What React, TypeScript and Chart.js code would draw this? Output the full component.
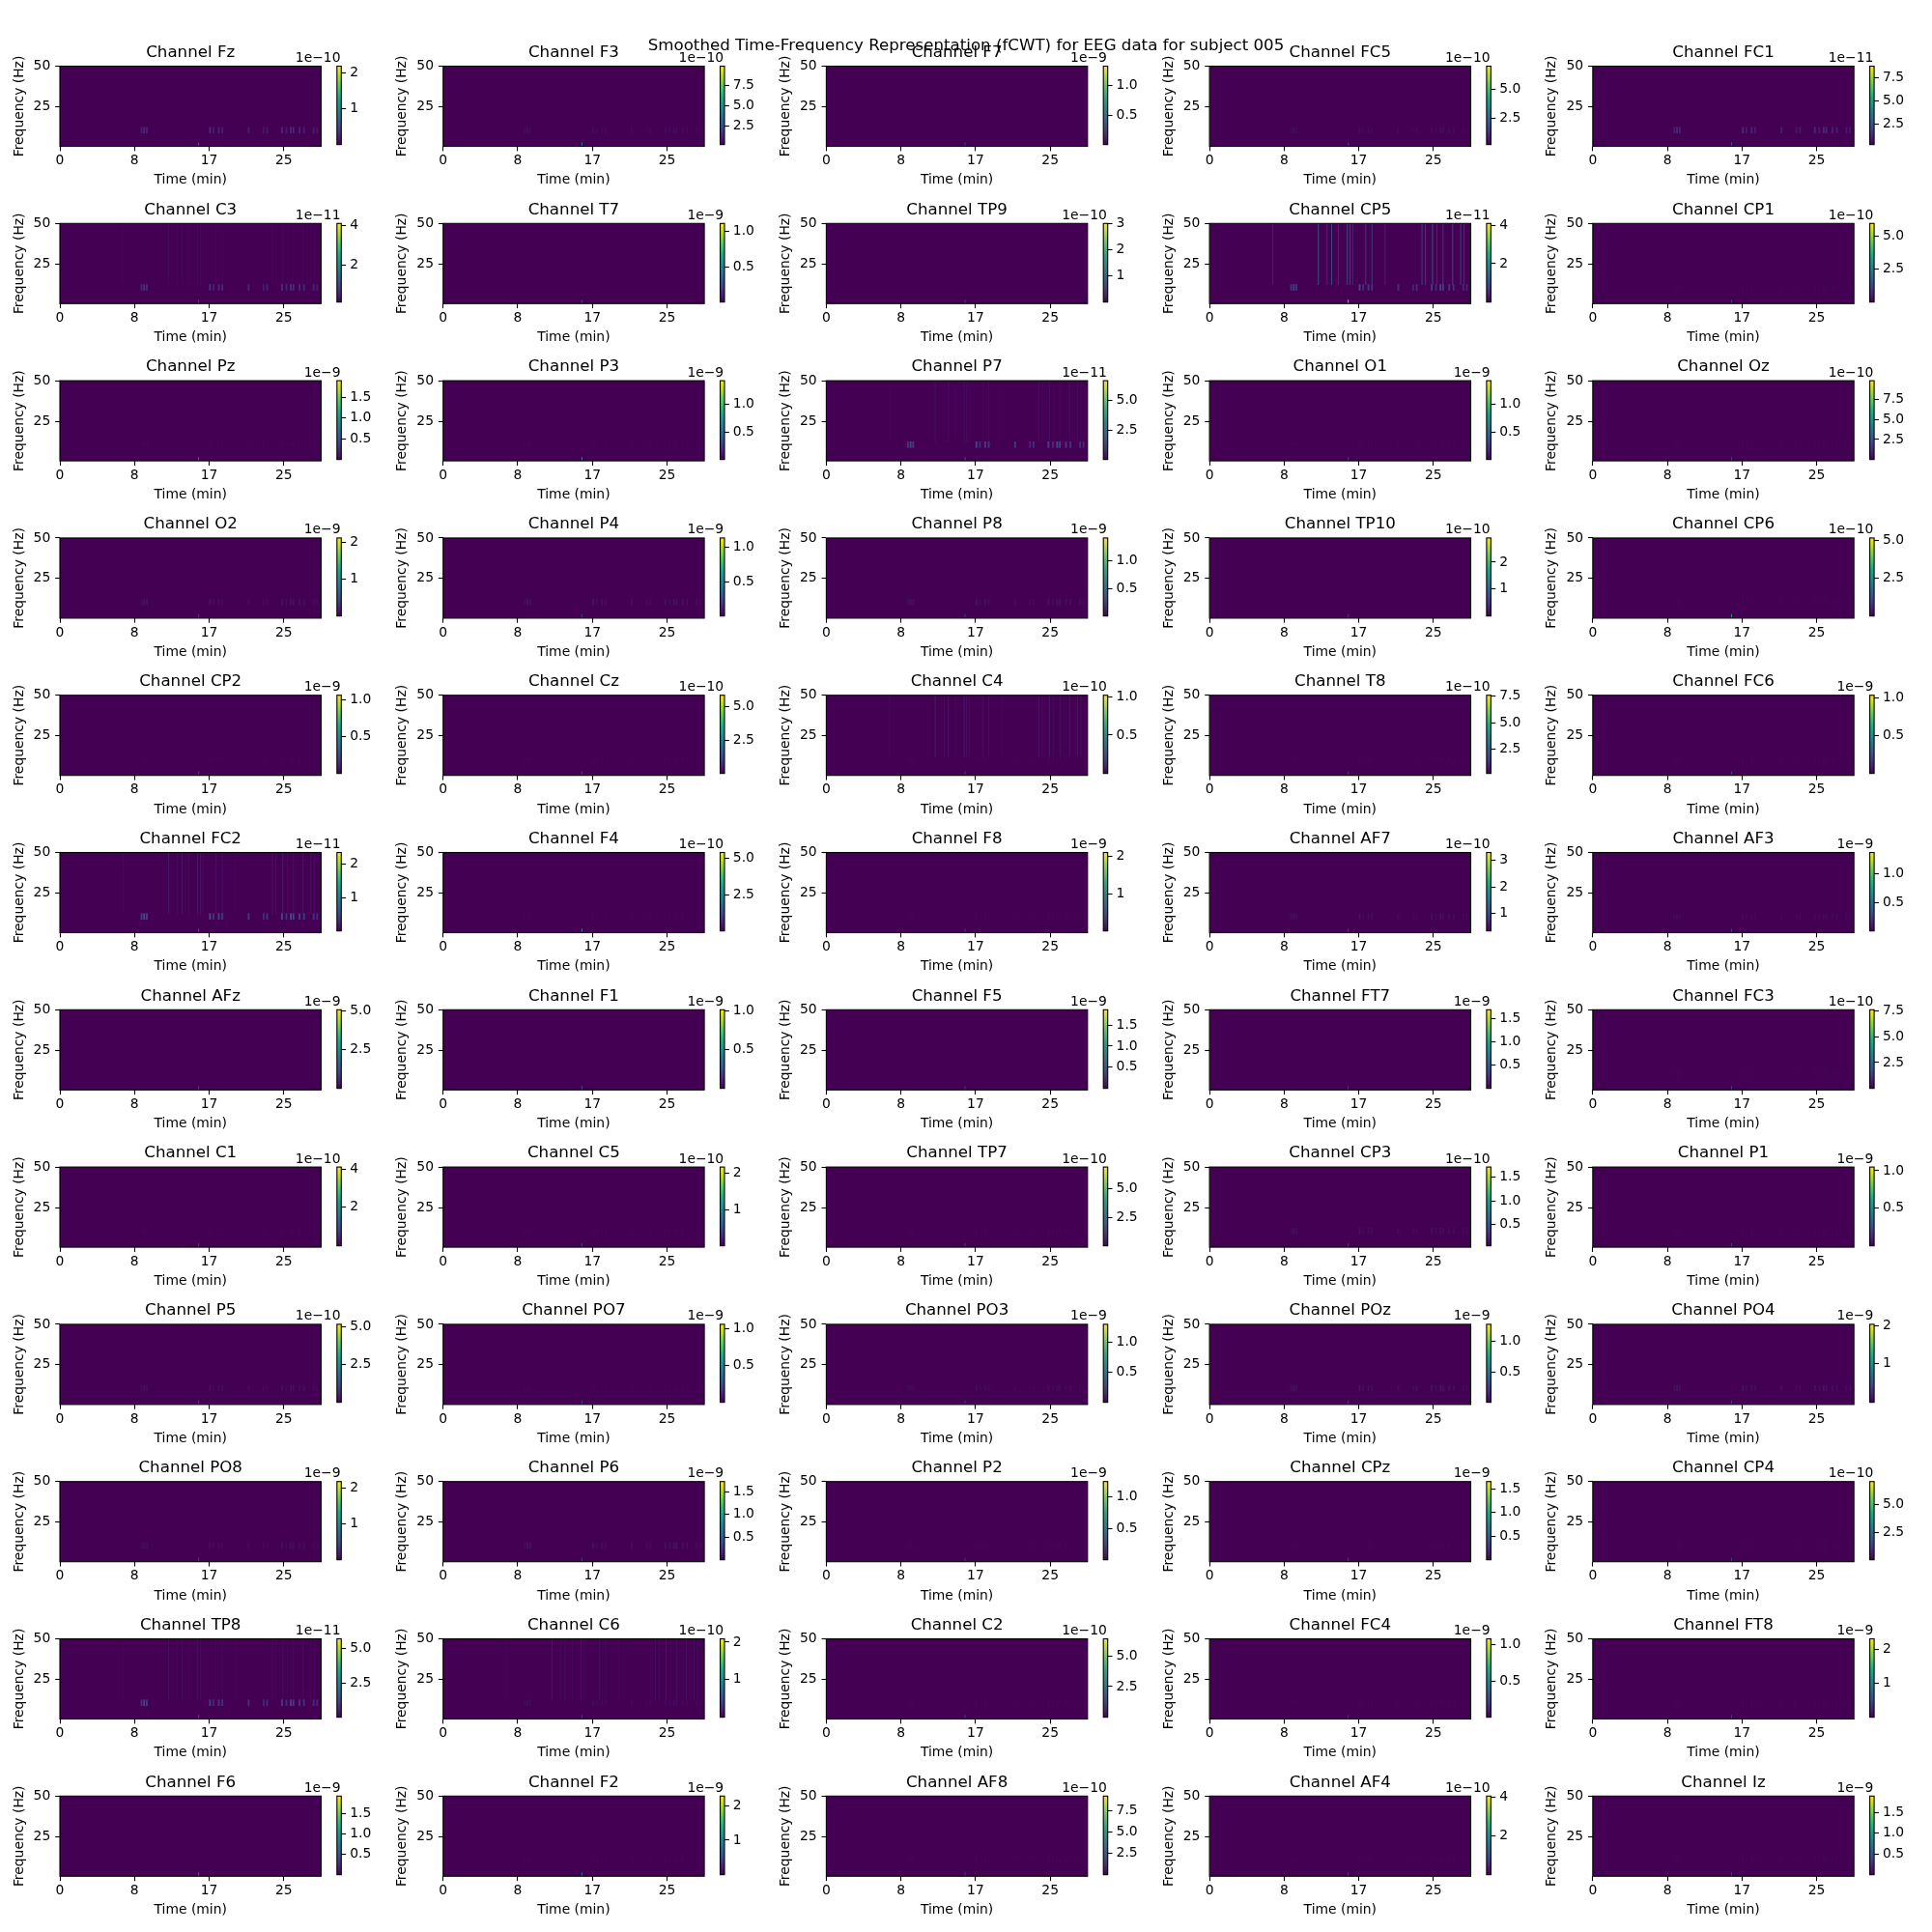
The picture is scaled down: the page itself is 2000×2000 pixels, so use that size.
import React, { useEffect, useRef } from 'react';
import { Chart, registerables } from 'chart.js';

Chart.register(...registerables);

const SUPTITLE = 'Smoothed Time-Frequency Representation (fCWT) for EEG data for subject 005';

const CHANNELS = [
  'Fz', 'F3', 'F7', 'FC5', 'FC1',
  'C3', 'T7', 'TP9', 'CP5', 'CP1',
  'Pz', 'P3', 'P7', 'O1', 'Oz',
  'O2', 'P4', 'P8', 'TP10', 'CP6',
  'CP2', 'Cz', 'C4', 'T8', 'FC6',
  'FC2', 'F4', 'F8', 'AF7', 'AF3',
  'AFz', 'F1', 'F5', 'FT7', 'FC3',
  'C1', 'C5', 'TP7', 'CP3', 'P1',
  'P5', 'PO7', 'PO3', 'POz', 'PO4',
  'PO8', 'P6', 'P2', 'CPz', 'CP4',
  'TP8', 'C6', 'C2', 'FC4', 'FT8',
  'F6', 'F2', 'AF8', 'AF4', 'Iz',
];

// colorbar offset exponent (1e-N)
const EXPONENTS = [
  -10, -10, -9, -10, -11,
  -11, -9, -10, -11, -10,
  -9, -9, -11, -9, -10,
  -9, -9, -9, -10, -10,
  -9, -10, -10, -10, -9,
  -11, -10, -9, -10, -9,
  -9, -9, -9, -9, -10,
  -10, -10, -10, -10, -9,
  -10, -9, -9, -9, -9,
  -9, -9, -9, -9, -10,
  -11, -10, -10, -9, -9,
  -9, -9, -10, -10, -9,
];

const CB_MIN = [
  0, 0.2, 0, 0.2, 0.25,
  0.1, 0, 0, 0, 0,
  0, 0, 0, 0, 0,
  0, 0, 0, 0, 0,
  0, 0, 0, 0.2, 0,
  0, 0, 0, 0.35, 0,
  0, 0, 0, 0, 0,
  0, 0, 0, 0.04, 0,
  0, 0, 0, 0.02, 0,
  0, 0, 0, 0, 0,
  0, 0, 0, 0, 0,
  0, 0, 0, 0, 0,
];

const CB_MAX = [
  2.2, 9.9, 1.33, 7.0, 8.75,
  4.1, 1.11, 3.0, 4.1, 6.0,
  1.9, 1.43, 6.7, 1.43, 9.85,
  2.12, 1.14, 1.42, 2.9, 5.15,
  1.06, 5.86, 1.02, 7.6, 1.03,
  2.36, 5.4, 2.1, 3.3, 1.38,
  5.07, 1.015, 1.86, 1.68, 7.6,
  4.1, 2.18, 6.9, 1.72, 1.05,
  5.15, 1.06, 1.3, 1.28, 2.03,
  2.19, 1.72, 1.25, 1.65, 7.1,
  5.69, 2.09, 6.4, 1.08, 2.32,
  1.93, 2.28, 9.25, 4.06, 1.89,
];

const CB_STEP = [
  1, 2.5, 0.5, 2.5, 2.5,
  2, 0.5, 1, 2, 2.5,
  0.5, 0.5, 2.5, 0.5, 2.5,
  1, 0.5, 0.5, 1, 2.5,
  0.5, 2.5, 0.5, 2.5, 0.5,
  1, 2.5, 1, 1, 0.5,
  2.5, 0.5, 0.5, 0.5, 2.5,
  2, 1, 2.5, 0.5, 0.5,
  2.5, 0.5, 0.5, 0.5, 1,
  1, 0.5, 0.5, 0.5, 2.5,
  2.5, 1, 2.5, 0.5, 1,
  0.5, 1, 2.5, 2, 0.5,
];

const X_TICKS = [0, 8.5, 17, 25.5];
const X_TICK_LABELS = ['0', '8', '17', '25'];
const Y_TICKS = [25, 50];
const TIME_END = 29.75;
const FREQ_MIN = 0.5;
const FREQ_MAX = 50;

// recurring activity seen across channels
const ALPHA_TIMES = [9.3, 9.6, 9.9, 17.1, 17.5, 18.1, 18.5, 21.5, 23.2, 23.6, 25.3, 25.8, 26.3, 26.6, 27.3, 27.8, 28.9, 29.3];
const ALPHA_WEIGHTS = [0.7, 1.0, 0.8, 1.0, 0.6, 0.8, 0.7, 0.7, 0.5, 0.6, 0.9, 0.6, 1.0, 0.9, 0.8, 0.7, 0.6, 0.5];
const BROAD_TIMES = [7.2, 12.4, 13.4, 13.9, 14.7, 15.7, 16.0, 16.3, 17.8, 18.5, 20.0, 24.2, 24.6, 25.4, 25.9, 26.6, 27.7, 28.6, 29.0];
const BROAD_WEIGHTS = [0.3, 1.0, 0.4, 0.8, 0.4, 0.9, 0.7, 0.4, 0.6, 0.6, 0.3, 0.7, 0.6, 1.0, 0.4, 0.6, 0.8, 0.7, 0.5];
const SPIKE_TIME = 15.8;

const ALPHA_LEVEL = [
  0.12, 0.03, 0.0, 0.03, 0.12,
  0.15, 0.0, 0.0, 0.2, 0.01,
  0.01, 0.01, 0.22, 0.01, 0.01,
  0.05, 0.05, 0.05, 0.0, 0.01,
  0.01, 0.01, 0.01, 0.01, 0.01,
  0.25, 0.01, 0.01, 0.04, 0.03,
  0.0, 0.0, 0.0, 0.0, 0.01,
  0.01, 0.01, 0.01, 0.04, 0.01,
  0.04, 0.01, 0.03, 0.05, 0.05,
  0.04, 0.05, 0.01, 0.01, 0.01,
  0.2, 0.03, 0.01, 0.01, 0.01,
  0.0, 0.01, 0.01, 0.01, 0.01,
];
const BROAD_LEVEL = [
  0, 0, 0, 0, 0,
  0.04, 0, 0, 0.4, 0,
  0, 0, 0.06, 0, 0,
  0, 0, 0, 0, 0,
  0, 0, 0.1, 0, 0,
  0.1, 0, 0, 0, 0,
  0, 0, 0, 0, 0,
  0, 0, 0, 0, 0,
  0, 0, 0, 0, 0,
  0, 0, 0, 0, 0,
  0.05, 0.07, 0, 0, 0,
  0, 0, 0, 0, 0,
];
const SPIKE_LEVEL = [
  0.3, 0.5, 0.2, 0.2, 0.3,
  0.2, 0.2, 0.2, 0.8, 0.2,
  0.4, 0.5, 0.3, 0.2, 0.2,
  0.2, 0.2, 0.2, 0.2, 0.6,
  0.2, 0.2, 0.2, 0.2, 0.2,
  0.3, 0.5, 0.2, 0.2, 0.2,
  0.2, 0.3, 0.2, 0.2, 0.2,
  0.2, 0.2, 0.2, 0.2, 0.2,
  0.2, 0.2, 0.2, 0.2, 0.2,
  0.2, 0.2, 0.2, 0.2, 0.2,
  0.3, 0.2, 0.2, 0.2, 0.2,
  0.4, 0.4, 0.2, 0.2, 0.2,
];

const VIRIDIS = ['#440154', '#482475', '#414487', '#355f8d', '#2a788e', '#21918c', '#22a884', '#44bf70', '#7ad151', '#bddf26', '#fde725'];

// layout (page pixels)
const COL_X0 = 62;
const COL_DX = 396.7;
const ROW_Y0 = 68.5;
const ROW_DY = 162.8;
const PLOT_W = 270.4;
const PLOT_H = 83;
const CB_GAP = 16.4;
const CB_W = 4.5;
const FONT = 'DejaVu Sans';
const LABEL_SIZE = 13.89;
const TITLE_SIZE = 16.67;

function hexToRgb(h: string) {
  return [parseInt(h.slice(1, 3), 16), parseInt(h.slice(3, 5), 16), parseInt(h.slice(5, 7), 16)];
}
const VIR_RGB = VIRIDIS.map(hexToRgb);
function viridis(t: number) {
  const u = Math.max(0, Math.min(1, t)) * (VIR_RGB.length - 1);
  const k = Math.min(VIR_RGB.length - 2, Math.floor(u));
  const f = u - k;
  const a = VIR_RGB[k], b = VIR_RGB[k + 1];
  return `rgb(${Math.round(a[0] + (b[0] - a[0]) * f)},${Math.round(a[1] + (b[1] - a[1]) * f)},${Math.round(a[2] + (b[2] - a[2]) * f)})`;
}

function buildCells(i: number) {
  const lo = CB_MIN[i], hi = CB_MAX[i], span = hi - lo;
  const cells: any[] = [{ x: TIME_END / 2, y: (FREQ_MIN + FREQ_MAX) / 2, w: TIME_END, h: FREQ_MAX - FREQ_MIN, v: lo }];
  if (BROAD_LEVEL[i] > 0) {
    BROAD_TIMES.forEach((t, k) => {
      cells.push({ x: t, y: 31, w: 0.08, h: 38, v: lo + span * BROAD_LEVEL[i] * BROAD_WEIGHTS[k] });
    });
  }
  if (ALPHA_LEVEL[i] > 0) {
    ALPHA_TIMES.forEach((t, k) => {
      cells.push({ x: t, y: 10.5, w: 0.2, h: 4, v: lo + span * ALPHA_LEVEL[i] * ALPHA_WEIGHTS[k] });
    });
  }
  cells.push({ x: SPIKE_TIME, y: 1.75, w: 0.1, h: 2.5, v: lo + span * SPIKE_LEVEL[i] });
  return cells;
}

const heatPlugin = {
  id: 'heat',
  beforeDatasetsDraw(chart: any, _args: any, opts: any) {
    const { ctx, chartArea: a, scales } = chart;
    const xs = scales.x, ys = scales.y;
    ctx.save();
    ctx.beginPath();
    ctx.rect(a.left, a.top, a.width, a.height);
    ctx.clip();
    for (const c of chart.data.datasets[0].data) {
      const l = xs.getPixelForValue(c.x - c.w / 2);
      const r = xs.getPixelForValue(c.x + c.w / 2);
      const t = ys.getPixelForValue(c.y + c.h / 2);
      const b = ys.getPixelForValue(c.y - c.h / 2);
      ctx.fillStyle = viridis((c.v - opts.lo) / (opts.hi - opts.lo));
      ctx.fillRect(l, t, r - l, b - t);
    }
    ctx.restore();
  },
  afterDatasetsDraw(chart: any) {
    const { ctx, chartArea: a } = chart;
    ctx.save();
    ctx.strokeStyle = '#000';
    ctx.lineWidth = 1.1;
    ctx.strokeRect(a.left, a.top, a.width, a.height);
    ctx.restore();
  },
};

const cbPlugin = {
  id: 'cbdeco',
  afterDatasetsDraw(chart: any) {
    const { ctx, chartArea: a } = chart;
    ctx.save();
    ctx.strokeStyle = '#000';
    ctx.lineWidth = 1.1;
    ctx.strokeRect(a.left, a.top, a.width, a.height);
    ctx.restore();
  },
  afterDraw(chart: any, _args: any, opts: any) {
    const { ctx, chartArea: a } = chart;
    ctx.save();
    ctx.font = `${LABEL_SIZE}px "${FONT}"`;
    ctx.fillStyle = '#000';
    ctx.textAlign = 'right';
    ctx.textBaseline = 'alphabetic';
    ctx.fillText(opts.text, a.right - 0.8, a.top - 4.5);
    ctx.restore();
  },
};

const tickGrid = { display: true, drawOnChartArea: false, drawTicks: true, tickLength: 4.86, tickColor: '#000', tickWidth: 1.1 };
const labelFont = { family: FONT, size: LABEL_SIZE };

function Panel({ i }: { i: number }) {
  const mainRef = useRef<HTMLCanvasElement | null>(null);
  const cbRef = useRef<HTMLCanvasElement | null>(null);
  const r = Math.floor(i / 5), c = i % 5;
  const plotLeft = COL_X0 + c * COL_DX;
  const plotTop = ROW_Y0 + r * ROW_DY;
  const cbLeft = plotLeft + PLOT_W + CB_GAP;

  // main canvas geometry
  const CL = Math.floor(plotLeft) - 64;
  const CT = Math.floor(plotTop) - 42;
  const CW = 345;
  const CH = 176;
  const Y_AXIS_W = 60;
  const X_AXIS_H = 45;
  const TITLE_PAD_TOP = 4;
  const TITLE_PAD_BOTTOM = 4.1;
  const titleBox = TITLE_SIZE * 1.2 + TITLE_PAD_TOP + TITLE_PAD_BOTTOM;
  const padL = plotLeft - CL - Y_AXIS_W;
  const padT = plotTop - CT - titleBox;
  const padR = CW - (plotLeft - CL) - PLOT_W;
  const padB = CH - (plotTop - CT) - PLOT_H - X_AXIS_H;

  // colorbar canvas geometry
  const CL2 = Math.floor(cbLeft) - 46;
  const CT2 = Math.floor(plotTop) - 24;
  const CW2 = 100;
  const CH2 = 118;
  const CB_AXIS_W = 44;
  const cpadL = cbLeft - CL2;
  const cpadT = plotTop - CT2;
  const cpadR = CW2 - cpadL - CB_W - CB_AXIS_W;
  const cpadB = CH2 - cpadT - PLOT_H;

  useEffect(() => {
    const lo = CB_MIN[i], hi = CB_MAX[i], step = CB_STEP[i];
    const main = new Chart(mainRef.current as HTMLCanvasElement, {
      type: 'scatter',
      data: { datasets: [{ data: buildCells(i), pointRadius: 0, pointHoverRadius: 0 }] },
      options: {
        animation: false,
        responsive: false,
        devicePixelRatio: 1,
        events: [],
        layout: { padding: { left: padL, top: padT, right: padR, bottom: padB } },
        plugins: {
          legend: { display: false },
          tooltip: { enabled: false },
          title: {
            display: true,
            text: `Channel ${CHANNELS[i]}`,
            fullSize: false,
            color: '#000',
            font: { family: FONT, size: TITLE_SIZE, weight: 'normal' },
            padding: { top: TITLE_PAD_TOP, bottom: TITLE_PAD_BOTTOM },
          },
          heat: { lo, hi },
        } as any,
        scales: {
          x: {
            type: 'linear',
            min: 0,
            max: TIME_END,
            afterFit: (s: any) => { s.height = X_AXIS_H; },
            afterBuildTicks: (s: any) => { s.ticks = X_TICKS.map((v) => ({ value: v })); },
            ticks: {
              autoSkip: false,
              maxRotation: 0,
              color: '#000',
              font: labelFont,
              padding: 2,
              callback: (v: any) => X_TICK_LABELS[X_TICKS.indexOf(Number(v))],
            },
            grid: tickGrid,
            border: { display: false },
            title: { display: true, text: 'Time (min)', color: '#000', font: labelFont, padding: { top: 0, bottom: 1.3 } },
          },
          y: {
            type: 'linear',
            min: FREQ_MIN,
            max: FREQ_MAX,
            afterFit: (s: any) => { s.width = Y_AXIS_W; },
            afterBuildTicks: (s: any) => { s.ticks = Y_TICKS.map((v) => ({ value: v })); },
            ticks: { autoSkip: false, color: '#000', font: labelFont, padding: 4.86, callback: (v: any) => String(v) },
            grid: tickGrid,
            border: { display: false },
            title: { display: true, text: 'Frequency (Hz)', color: '#000', font: labelFont, padding: { top: 9.7, bottom: 0 } },
          },
        },
      } as any,
      plugins: [heatPlugin],
    });

    const ticks: number[] = [];
    for (let k = Math.ceil((lo + 1e-9) / step); k * step <= hi + 1e-9; k++) {
      if (k * step > lo) ticks.push(k * step);
    }
    const decimals = step % 1 !== 0 ? 1 : 0;
    const cb = new Chart(cbRef.current as HTMLCanvasElement, {
      type: 'bar',
      data: {
        labels: [''],
        datasets: [{
          data: [[lo, hi]],
          barPercentage: 1,
          categoryPercentage: 1,
          borderWidth: 0,
          backgroundColor: (ctx: any) => {
            const a = ctx.chart.chartArea;
            if (!a) return VIRIDIS[0];
            const g = ctx.chart.ctx.createLinearGradient(0, a.bottom, 0, a.top);
            VIRIDIS.forEach((col, k) => g.addColorStop(k / (VIRIDIS.length - 1), col));
            return g;
          },
        }],
      },
      options: {
        animation: false,
        responsive: false,
        devicePixelRatio: 1,
        events: [],
        layout: { padding: { left: cpadL, top: cpadT, right: cpadR, bottom: cpadB } },
        plugins: {
          legend: { display: false },
          tooltip: { enabled: false },
          cbdeco: { text: `1e\u2212${Math.abs(EXPONENTS[i])}` },
        } as any,
        scales: {
          x: { display: false },
          y: {
            position: 'right',
            min: lo,
            max: hi,
            afterFit: (s: any) => { s.width = CB_AXIS_W; },
            afterBuildTicks: (s: any) => { s.ticks = ticks.map((v) => ({ value: v })); },
            ticks: { autoSkip: false, color: '#000', font: labelFont, padding: 4, callback: (v: any) => Number(v).toFixed(decimals) },
            grid: tickGrid,
            border: { display: false },
          },
        },
      } as any,
      plugins: [cbPlugin],
    });

    return () => {
      main.destroy();
      cb.destroy();
    };
  }, [i]);

  return (
    <>
      <canvas ref={mainRef} width={CW} height={CH} style={{ position: 'absolute', left: CL, top: CT, width: CW, height: CH }} />
      <canvas ref={cbRef} width={CW2} height={CH2} style={{ position: 'absolute', left: CL2, top: CT2, width: CW2, height: CH2 }} />
    </>
  );
}

export default function App() {
  return (
    <div style={{ position: 'absolute', left: 0, top: 0, width: 2000, height: 2000, background: '#fff', overflow: 'hidden' }}>
      {CHANNELS.map((_, i) => <Panel key={i} i={i} />)}
      <div
        style={{
          position: 'absolute', left: 0, top: 36.9, width: 2000, textAlign: 'center',
          fontFamily: `"${FONT}"`, fontSize: TITLE_SIZE, lineHeight: '20px', color: '#000', whiteSpace: 'nowrap', zIndex: 10,
        }}
      >
        {SUPTITLE}
      </div>
    </div>
  );
}
